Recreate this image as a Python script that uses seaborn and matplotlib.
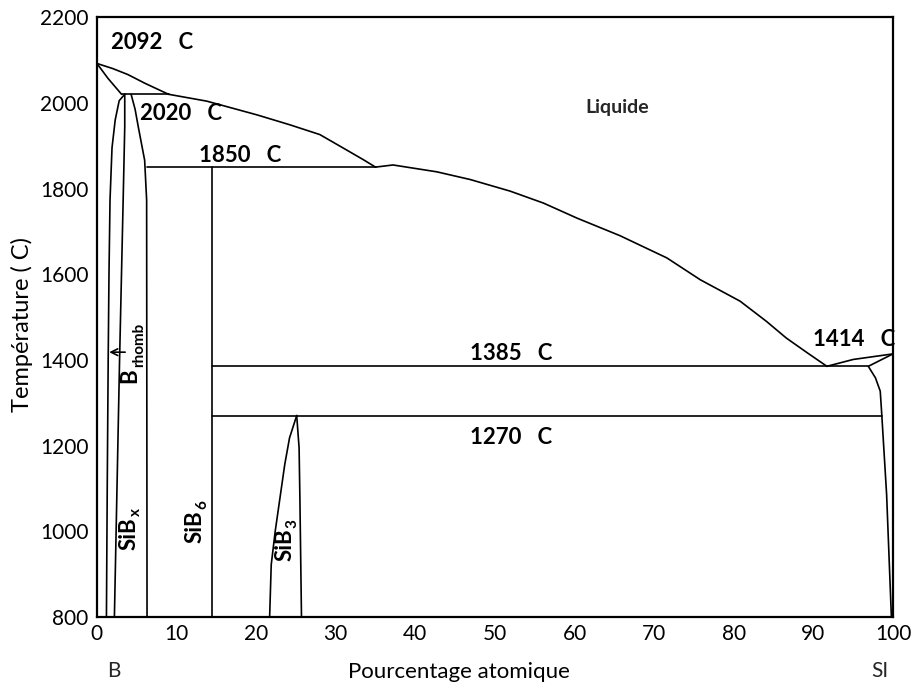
import matplotlib
matplotlib.use("Agg")
import matplotlib.pyplot as plt
from matplotlib.transforms import offset_copy
import seaborn as sns
import pandas as pd

# =============================================================================
# Data (x = % atomique Si, t = temperature)
# =============================================================================
liq_b_x = [0, 2, 3.9, 6, 9]
liq_b_t = [2092, 2080, 2066, 2046, 2020]

sol_b_x = [0, 1.4, 3.1]
sol_b_t = [2092, 2057, 2020]

iso_2020_x = [3.1, 9]
iso_2020_t = [2020, 2020]

liq_mid_x = [9, 13.8, 20.1, 24.2, 28, 30.9, 33.5, 35]
liq_mid_t = [2020, 2004, 1972, 1949, 1926, 1895, 1867, 1850]

brh_left_x = [1.2, 1.3, 1.42, 1.52, 1.65, 1.9, 2.3, 2.8, 3.5]
brh_left_t = [800, 1100, 1400, 1600, 1773, 1895, 1960, 2005, 2020]

brh_right_x = [3.5, 3.5, 3.3, 2.85, 2.2]
brh_right_t = [2020, 1944, 1773, 1400, 800]

sibx_x = [4.3, 4.8, 5.2, 6.0, 6.25, 6.3]
sibx_t = [2020, 1985, 1944, 1866, 1773, 800]

iso_1850_x = [6.3, 35]
iso_1850_t = [1850, 1850]

sib6_x = [14.4, 14.4]
sib6_t = [1850, 800]

liq_si_x = [35, 37.2, 42.7, 46.9, 51.9, 56.1, 60.3, 65.7, 71.6, 75.8, 80.8, 84.1, 86.6, 89.2, 91.7]
liq_si_t = [1850, 1855, 1839, 1821, 1794, 1766, 1731, 1690, 1638, 1587, 1537, 1490, 1451, 1417, 1385]

liq_end_x = [91.7, 95, 100]
liq_end_t = [1385, 1401, 1414]

sol_si_x = [100, 96.9, 97.8, 98.4, 98.6, 99.2, 99.8]
sol_si_t = [1414, 1385, 1358, 1327, 1270, 1086, 800]

iso_1385_x = [14.4, 96.9]
iso_1385_t = [1385, 1385]

iso_1270_x = [14.4, 98.6]
iso_1270_t = [1270, 1270]

sib3_left_x = [21.7, 21.9, 22.4, 23.0, 23.6, 24.2, 25.1]
sib3_left_t = [800, 922, 1000, 1078, 1156, 1218, 1270]

sib3_right_x = [25.1, 25.4, 25.5, 25.7]
sib3_right_t = [1270, 1195, 1078, 800]

curves = [
    (liq_b_x, liq_b_t), (sol_b_x, sol_b_t), (iso_2020_x, iso_2020_t),
    (liq_mid_x, liq_mid_t), (brh_left_x, brh_left_t), (brh_right_x, brh_right_t),
    (sibx_x, sibx_t), (iso_1850_x, iso_1850_t), (sib6_x, sib6_t),
    (liq_si_x, liq_si_t), (liq_end_x, liq_end_t), (sol_si_x, sol_si_t),
    (iso_1385_x, iso_1385_t), (iso_1270_x, iso_1270_t),
    (sib3_left_x, sib3_left_t), (sib3_right_x, sib3_right_t),
]

x_ticks = [0, 10, 20, 30, 40, 50, 60, 70, 80, 90, 100]
y_ticks = [800, 1000, 1200, 1400, 1600, 1800, 2000, 2200]

# =============================================================================
# Plot
# =============================================================================
sns.set_theme(style='white')
plt.rcParams['font.family'] = ['Lato', 'DejaVu Sans']

fig = plt.figure(figsize=(9.14, 6.87), dpi=100)
ax = fig.add_axes([0.106, 0.102, 0.871, 0.873])

for cx, ct in curves:
    df = pd.DataFrame({'x': cx, 't': ct})
    sns.lineplot(data=df, x='x', y='t', sort=False, estimator=None,
                 color='black', linewidth=1.2, ax=ax)

ax.annotate('', xy=(1.2, 1418), xytext=(3.9, 1418),
            arrowprops=dict(arrowstyle='->', color='black', lw=1.2))

ax.set_xlim(0, 100)
ax.set_ylim(800, 2200)
ax.set_xticks(x_ticks)
ax.set_yticks(y_ticks)
ax.tick_params(length=0, labelsize=15, colors='black')
ax.tick_params(axis='y', pad=6)
ax.tick_params(axis='x', pad=5)
for s in ax.spines.values():
    s.set_linewidth(1.6)
    s.set_color('black')

ax.set_xlabel('Pourcentage atomique', fontsize=16, color='black')
ax.xaxis.set_label_coords(0.455, -0.092)
ax.xaxis.label.set_va('center')
ax.set_ylabel('Température ( C)', fontsize=17, color='black')
ax.yaxis.set_label_coords(-0.094, 0.487)
ax.yaxis.label.set_va('center')

ax.text(0.021, -0.09, 'B', transform=ax.transAxes, ha='center', va='center', fontsize=15)
ax.text(0.984, -0.09, 'SI', transform=ax.transAxes, ha='center', va='center', fontsize=15)

bold = dict(fontsize=16, fontweight='bold', va='center', ha='left', color='black')
ax.text(1.8, 2140, '2092   C', **bold)
ax.text(5.4, 1976, '2020   C', **bold)
ax.text(12.8, 1876, '1850   C', **bold)
ax.text(61.3, 1988, 'Liquide', fontsize=14, fontweight='bold', va='center', ha='left')
ax.text(46.9, 1416, '1385   C', **bold)
ax.text(46.9, 1220, '1270   C', **bold)
ax.text(90.0, 1447, '1414   C', **bold)


# rotated phase labels with a subscript
def phase_label(x, y, main, sub, drop=5):
    rot = dict(rotation=90, rotation_mode='anchor', ha='left', va='baseline',
               fontweight='bold', color='black')
    t = ax.text(x, y, main, fontsize=16, **rot)
    fig.canvas.draw()
    h = t.get_window_extent().height
    tr = offset_copy(ax.transData, fig=fig, x=drop, y=h + 1, units='dots')
    ax.text(x, y, sub, fontsize=11, transform=tr, **rot)


phase_label(5.0, 1346, 'B', 'rhomb', drop=6)
phase_label(4.8, 957, 'SiB', 'x')
phase_label(13.15, 973, 'SiB', '6')
phase_label(24.46, 930, 'SiB', '3')

plt.savefig('out.png', dpi=100)
